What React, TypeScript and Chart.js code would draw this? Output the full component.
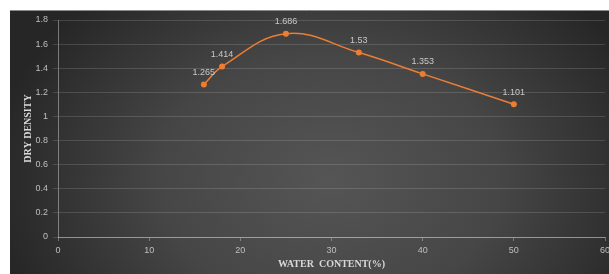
import React, { useEffect, useRef } from "react";
import { Chart, registerables } from "chart.js";

Chart.register(...registerables);

const waterContent = [16, 18, 25, 33, 40, 50];
const dryDensity = [1.265, 1.414, 1.686, 1.53, 1.353, 1.101];
const dataLabels = ["1.265", "1.414", "1.686", "1.53", "1.353", "1.101"];
const xTitle = "WATER  CONTENT(%)";
const yTitle = "DRY DENSITY";

const W = 609;
const H = 274;

const bgPlugin = {
  id: "bgPlugin",
  beforeDraw(chart: any) {
    const ctx = chart.ctx;
    ctx.save();
    ctx.fillStyle = "#ffffff";
    ctx.fillRect(0, 0, W, H);
    const cx = 330;
    const cy = 180;
    ctx.translate(cx, cy);
    ctx.scale(1, 0.75);
    const g = ctx.createRadialGradient(0, 0, 0, 0, 0, 340);
    g.addColorStop(0, "#555555");
    g.addColorStop(0.5, "#464646");
    g.addColorStop(1, "#262626");
    ctx.fillStyle = g;
    ctx.fillRect(10 - cx, (10 - cy) / 0.75, (W - 10) , (H - 10) / 0.75);
    ctx.restore();
    ctx.save();
    ctx.strokeStyle = "#8a8a8a";
    ctx.lineWidth = 1;
    ctx.beginPath();
    ctx.moveTo(10, 10.5);
    ctx.lineTo(W, 10.5);
    ctx.stroke();
    ctx.restore();
  },
};

const labelPlugin = {
  id: "labelPlugin",
  afterDatasetsDraw(chart: any) {
    const ctx = chart.ctx;
    const meta = chart.getDatasetMeta(0);
    ctx.save();
    ctx.font = "9px 'Liberation Sans', Arial, sans-serif";
    ctx.fillStyle = "#c8c8c8";
    ctx.textAlign = "center";
    ctx.textBaseline = "middle";
    meta.data.forEach((pt: any, i: number) => {
      ctx.fillText(dataLabels[i], pt.x, pt.y - 12);
    });
    ctx.restore();
  },
};

export default function App() {
  const ref = useRef<HTMLCanvasElement>(null);
  useEffect(() => {
    if (!ref.current) return;
    const chart = new Chart(ref.current, {
      type: "line",
      data: {
        datasets: [
          {
            data: waterContent.map((x, i) => ({ x, y: dryDensity[i] })),
            borderColor: "#ED7D31",
            backgroundColor: "#ED7D31",
            borderWidth: 1.5,
            pointRadius: 3,
            pointBorderWidth: 0,
            pointBackgroundColor: "#ED7D31",
            tension: 0.4,
            fill: false,
          },
        ],
      },
      options: {
        responsive: false,
        animation: false,
        devicePixelRatio: 1,
        layout: { padding: { left: 0, right: 2, top: 20, bottom: 0 } },
        plugins: {
          legend: { display: false },
          tooltip: { enabled: false },
        },
        scales: {
          x: {
            type: "linear",
            min: 0,
            max: 60,
            ticks: {
              stepSize: 10,
              color: "#bfbfbf",
              font: { size: 9, family: "'Liberation Sans', Arial, sans-serif" },
              padding: 4,
              maxRotation: 0,
            },
            grid: {
              drawOnChartArea: false,
              drawTicks: true,
              tickLength: 4,
              color: "rgba(255,255,255,0.3)",
            },
            border: { color: "rgba(255,255,255,0.38)", width: 1 },
            title: {
              display: true,
              text: xTitle,
              color: "#d9d9d9",
              font: { size: 10, weight: "bold", family: "'Liberation Serif', 'DejaVu Serif', serif" },
              padding: { top: 0, bottom: 4 },
            },
            afterFit(scale: any) {
              scale.height = 37;
              scale.paddingLeft = 0;
              scale.paddingRight = 0;
            },
          },
          y: {
            type: "linear",
            min: 0,
            max: 1.8,
            ticks: {
              stepSize: 0.2,
              color: "#bfbfbf",
              font: { size: 9, family: "'Liberation Sans', Arial, sans-serif" },
              padding: 5,
              callback: (v: any) => String(Number(Number(v).toFixed(1))),
            },
            grid: {
              drawOnChartArea: true,
              drawTicks: true,
              tickLength: 5,
              color: "rgba(255,255,255,0.14)",
            },
            border: { color: "rgba(255,255,255,0.38)", width: 1 },
            title: {
              display: true,
              text: yTitle,
              color: "#d9d9d9",
              font: { size: 10, weight: "bold", family: "'Liberation Serif', 'DejaVu Serif', serif" },
              padding: { top: 22, bottom: 0 },
            },
            afterFit(scale: any) {
              scale.width = 58;
              scale.paddingTop = 0;
              scale.paddingBottom = 0;
            },
          },
        },
      },
      plugins: [bgPlugin, labelPlugin],
    } as any);
    return () => chart.destroy();
  }, []);
  return (
    <div style={{ position: "fixed", left: 0, top: 0, width: W, height: H }}>
      <canvas ref={ref} width={W} height={H} style={{ width: W, height: H, display: "block" }} />
    </div>
  );
}
